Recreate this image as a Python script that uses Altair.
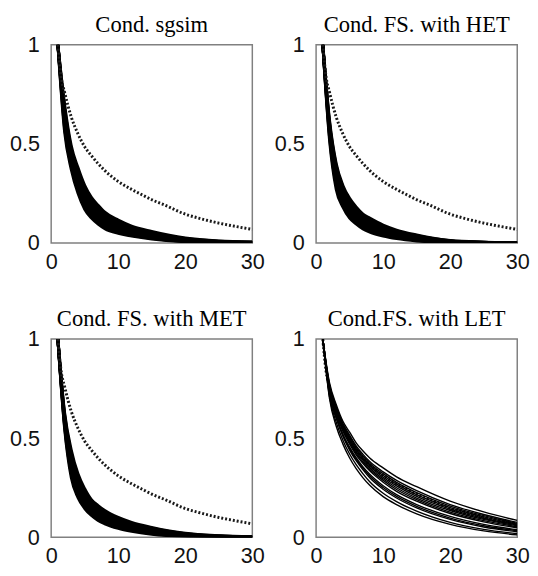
import altair as alt
import pandas as pd

# x positions (lag) at which the realization curves were read
X = [1, 2, 3, 4, 5, 6, 7, 8, 10, 12, 15, 20, 25, 30]

# reference (dotted) curve
X_REF = [1, 1.5, 2, 3, 4, 5, 6, 7, 8, 10, 12, 14, 15, 17, 20, 22, 25, 28, 30]
REF = [1.0, 0.835, 0.76, 0.635, 0.55, 0.485, 0.44, 0.40, 0.365, 0.31, 0.27,
       0.235, 0.218, 0.19, 0.145, 0.125, 0.10, 0.08, 0.068]

# Cond. sgsim realizations
SGSIM = {
    "a":  [1, .56, .37, .25, .17, .125, .095, .072, .048, .035, .020, .006, .002, .000],
    "ab": [1, .58, .385, .265, .185, .138, .105, .081, .054, .039, .023, .0075, .0025, .0005],
    "b":  [1, .60, .40, .28, .20, .150, .115, .090, .060, .043, .027, .009, .003, .001],
    "bc": [1, .615, .415, .295, .215, .163, .128, .100, .068, .049, .031, .011, .004, .0015],
    "c":  [1, .63, .43, .31, .23, .175, .140, .110, .075, .055, .035, .013, .005, .002],
    "cd": [1, .65, .445, .33, .245, .19, .152, .122, .085, .062, .040, .016, .006, .0025],
    "d":  [1, .67, .46, .35, .26, .205, .165, .135, .095, .070, .046, .019, .007, .003],
    "de": [1, .685, .475, .365, .275, .218, .178, .145, .105, .078, .052, .022, .0085, .004],
    "e":  [1, .70, .49, .38, .29, .230, .190, .155, .115, .085, .058, .025, .010, .005],
}

# Cond. FS. with HET realizations
HET = {
    "a":  [1, .52, .27, .18, .125, .095, .070, .055, .035, .022, .010, .002, .000, .000],
    "ab": [1, .535, .29, .195, .138, .105, .079, .063, .042, .027, .0135, .003, .0005, 0],
    "b":  [1, .55, .31, .21, .150, .115, .088, .070, .048, .032, .017, .004, .001, .000],
    "bc": [1, .565, .33, .225, .165, .128, .099, .080, .055, .038, .021, .0055, .0015, 0],
    "c":  [1, .58, .35, .24, .180, .140, .110, .090, .063, .043, .025, .007, .002, .000],
    "cd": [1, .59, .365, .255, .193, .150, .120, .099, .070, .049, .029, .0085, .0025, .0005],
    "d":  [1, .60, .38, .27, .205, .160, .130, .108, .077, .055, .033, .010, .003, .001],
    "de": [1, .61, .39, .28, .215, .170, .138, .116, .083, .060, .036, .011, .0035, .001],
    "e":  [1, .62, .40, .29, .225, .180, .145, .125, .090, .065, .040, .012, .004, .001],
}

# Cond. FS. with MET realizations
MET = {
    "a":  [1, .55, .30, .20, .145, .110, .085, .068, .045, .030, .015, .004, .001, .000],
    "ab": [1, .56, .32, .215, .158, .120, .094, .075, .051, .035, .019, .0055, .0015, 0],
    "b":  [1, .57, .34, .23, .170, .130, .103, .083, .058, .040, .023, .007, .002, .000],
    "bc": [1, .58, .355, .245, .183, .140, .112, .091, .065, .046, .0275, .009, .003, .0005],
    "c":  [1, .59, .37, .26, .195, .150, .122, .100, .072, .052, .032, .011, .004, .001],
    "cd": [1, .60, .39, .275, .208, .160, .132, .109, .079, .058, .0365, .013, .005, .0015],
    "d":  [1, .61, .41, .29, .220, .170, .142, .118, .086, .064, .041, .015, .006, .002],
    "de": [1, .62, .425, .305, .233, .180, .151, .1265, .093, .0695, .0455, .0175, .007, .0025],
    "e":  [1, .63, .44, .32, .245, .190, .160, .135, .100, .075, .050, .020, .008, .003],
}

# Cond.FS. with LET realizations
LET = {
    "a":  [1, .70, .56, .47, .40, .345, .300, .262, .205, .165, .118, .065, .032, .012],
    "b":  [1, .71, .58, .49, .42, .365, .320, .280, .222, .180, .132, .075, .040, .018],
    "c":  [1, .72, .60, .51, .44, .385, .340, .300, .242, .198, .148, .090, .052, .028],
    "cd": [1, .725, .605, .515, .448, .392, .348, .309, .251, .206, .156, .097, .058, .033],
    "d":  [1, .73, .61, .52, .455, .400, .355, .318, .260, .215, .165, .105, .065, .038],
    "e":  [1, .74, .62, .535, .47, .415, .372, .335, .278, .232, .182, .120, .078, .048],
    "ef": [1, .745, .628, .543, .478, .422, .380, .342, .287, .241, .190, .127, .084, .053],
    "f":  [1, .75, .635, .55, .485, .430, .388, .350, .295, .250, .198, .135, .090, .058],
    "fg": [1, .755, .64, .555, .493, .438, .395, .358, .303, .259, .206, .142, .096, .062],
    "g":  [1, .76, .645, .56, .50, .445, .402, .366, .312, .268, .215, .150, .103, .066],
    "gh": [1, .765, .652, .568, .508, .452, .410, .374, .321, .277, .225, .157, .109, .070],
    "h":  [1, .77, .66, .575, .515, .460, .418, .382, .330, .287, .235, .165, .115, .075],
    "i":  [1, .78, .67, .585, .53, .475, .435, .400, .350, .305, .255, .182, .128, .085],
}

TITLES = ["Cond. sgsim", "Cond. FS. with HET", "Cond. FS. with MET", "Cond.FS. with LET"]
X_TICKS = [0, 10, 20, 30]
Y_TICKS = [0, 0.5, 1]

W, H = 205, 202


def panel(title, runs, line_width, ref_on_top):
    rows = [{"x": x, "y": y, "run": name}
            for name, ys in runs.items() for x, y in zip(X, ys)]
    df = pd.DataFrame(rows)
    ref = pd.DataFrame({"x": X_REF, "y": REF})

    xenc = alt.X("x:Q", scale=alt.Scale(domain=[0, 30], nice=False),
                 axis=alt.Axis(values=X_TICKS, title=None, labelPadding=9,
                               labelFlush=False))
    yenc = alt.Y("y:Q", scale=alt.Scale(domain=[0, 1], nice=False),
                 axis=alt.Axis(values=Y_TICKS, title=None, format="~g",
                               labelPadding=12, labelFlush=False))

    lines = alt.Chart(df).mark_line(
        color="black", strokeWidth=line_width, interpolate="monotone", clip=True
    ).encode(x=xenc, y=yenc, detail="run:N")

    dotted = alt.Chart(ref).mark_line(
        color="#1a1a1a", strokeWidth=3.0, strokeDash=[2, 2], strokeCap="butt",
        interpolate="monotone", clip=True
    ).encode(x=xenc, y=yenc)

    layers = [lines, dotted] if ref_on_top else [dotted, lines]
    return alt.layer(*layers).properties(width=W, height=H, title=title)


p1 = panel(TITLES[0], SGSIM, 3.0, True)
p2 = panel(TITLES[1], HET, 3.0, True)
p3 = panel(TITLES[2], MET, 3.0, True)
p4 = panel(TITLES[3], LET, 1.4, False)

chart = alt.vconcat(
    alt.hconcat(p1, p2, spacing=8),
    alt.hconcat(p3, p4, spacing=8),
    spacing=35,
).configure(
    padding={"left": 0, "top": 0, "right": 0, "bottom": 0},
    background="white",
).configure_view(
    stroke="#808080", strokeWidth=1.5
).configure_axis(
    domain=False, ticks=False, grid=False,
    labelFont="Liberation Sans", labelFontSize=22, labelColor="#111",
).configure_title(
    font="Liberation Serif", fontSize=23, fontWeight="normal", color="black",
    offset=-3, anchor="middle",
)

chart.save("out.html", embed_options={"renderer": "svg", "actions": False})
